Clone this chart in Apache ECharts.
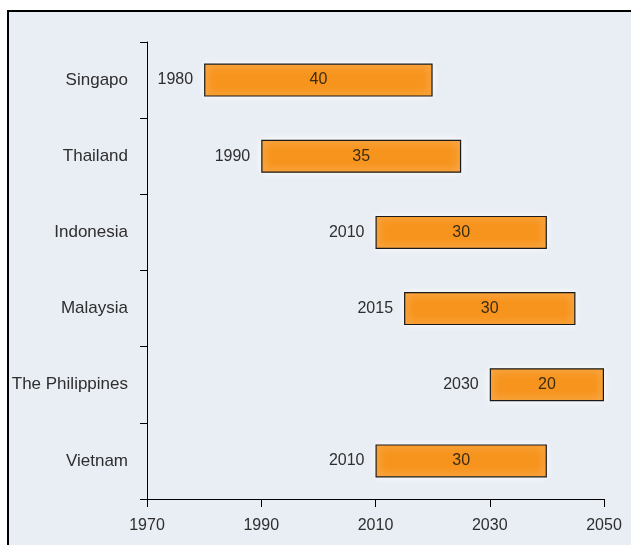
<!DOCTYPE html>
<html>
<head>
<meta charset="utf-8">
<script src="https://cdn.jsdelivr.net/npm/echarts@6/dist/echarts.min.js"></script>
<style>html,body{margin:0;padding:0;background:#fff;}#c{width:631px;height:545px;}</style>
</head>
<body>
<div id="c"></div>
<script>
var countries = ['Singapo', 'Thailand', 'Indonesia', 'Malaysia', 'The Philippines', 'Vietnam'];
var startYears = [1980, 1990, 2010, 2015, 2030, 2010];
var durations = [40, 35, 30, 30, 20, 30];
var xTicks = [1970, 1990, 2010, 2030, 2050];

var chart = echarts.init(document.getElementById('c'), null, {renderer: 'canvas'});
var font = '"Liberation Sans", Arial, sans-serif';
var txt = '#2e2e2e';
chart.setOption({
  backgroundColor: '#ffffff',
  animation: false,
  graphic: [{
    type: 'rect', z: -10, silent: true,
    shape: {x: 8, y: 11, width: 700, height: 600},
    style: {fill: '#e9eef5', stroke: '#000', lineWidth: 2}
  }],
  grid: {left: 147, right: 27, top: 42, bottom: 46, containLabel: false},
  xAxis: {
    type: 'value', min: xTicks[0], max: xTicks[xTicks.length - 1], interval: xTicks[1] - xTicks[0],
    axisLine: {show: true, lineStyle: {color: '#000', width: 1}},
    axisTick: {show: true, length: 8, lineStyle: {color: '#000'}},
    axisLabel: {color: txt, fontSize: 16, fontFamily: font, margin: 19,
      formatter: function (v) { return String(v); }},
    splitLine: {show: false}
  },
  yAxis: {
    type: 'category', data: countries, inverse: true,
    axisLine: {show: true, lineStyle: {color: '#000', width: 1}},
    axisTick: {show: true, length: 7, alignWithLabel: false, lineStyle: {color: '#000'}},
    axisLabel: {color: txt, fontSize: 17, fontFamily: font, margin: 19},
    splitLine: {show: false}
  },
  series: [{
    type: 'bar', stack: 'a', barWidth: 33, data: startYears,
    itemStyle: {color: 'rgba(0,0,0,0)'},
    label: {show: true, position: 'insideRight', distance: 11, color: txt, fontSize: 16, fontFamily: font,
      formatter: function (p) { return String(p.value); }},
    silent: true
  }, {
    type: 'bar', stack: 'a', barWidth: 33, data: durations,
    itemStyle: {color: '#f7941d', borderColor: '#1a1a1a', borderWidth: 1.2,
      shadowColor: 'rgba(255,255,255,0.95)', shadowBlur: 8},
    label: {show: true, position: 'inside', color: '#3a2c14', fontSize: 16, fontFamily: font}
  }]
});
</script>
</body>
</html>
